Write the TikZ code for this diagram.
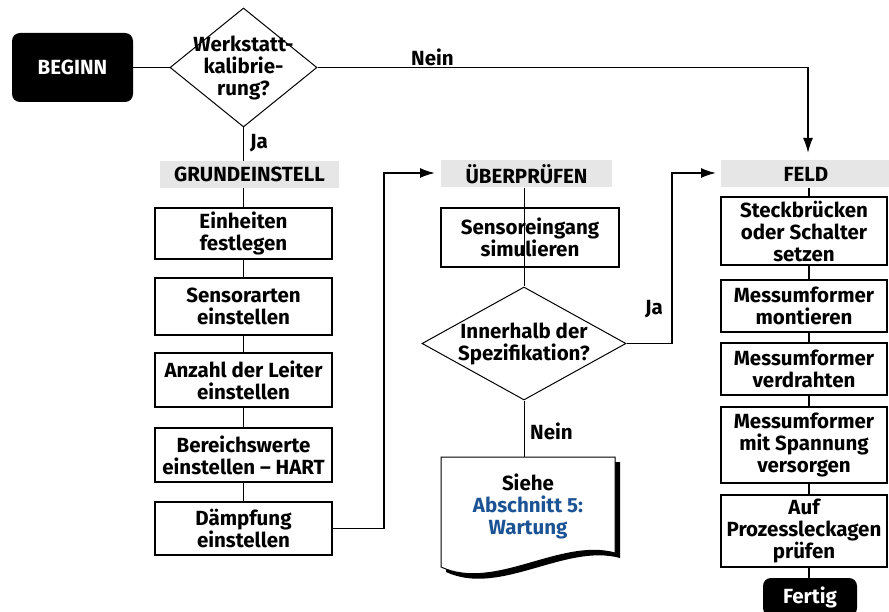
\documentclass[tikz,border=0pt]{standalone}
\usepackage{fontspec}
\setmainfont{Fira Sans}
\usetikzlibrary{arrows.meta,shapes.geometric}
\definecolor{hdrgray}{HTML}{E6E6E6}
\definecolor{linkblue}{HTML}{1B5394}
\begin{document}
\begin{tikzpicture}[x=1pt,y=-1pt,
  every node/.style={font=\bfseries\fontsize{20.5}{22}\selectfont, align=center, inner sep=0pt},
  stepbox/.style={draw, line width=1.7pt, fill=white, minimum width=#1},
  stepbox/.default=177pt,
  header/.style={fill=hdrgray, minimum height=27pt},
  terminal/.style={fill=black, text=white, rounded corners=8pt},
  decision/.style={draw, diamond, line width=1pt, fill=white},
  conn/.style={line width=1.7pt},
  thinconn/.style={line width=1pt},
  arr/.style={-{Latex[length=15pt,width=10pt]}},
  lbl/.style={anchor=west}
]
\useasboundingbox (0,0) rectangle (889,612);

% start and first decision
\node[terminal, minimum width=121pt, minimum height=69pt] (begin) at (72.5,67.5) {BEGINN};
\node[decision, minimum width=147pt, minimum height=119pt] (d1) at (243.5,67.5) {};
\node at (d1) {Werkstatt-\\kalibrie-\\rung?};

% column headers
\node[header, minimum width=179pt] (grund) at (249.5,174.5) {GRUNDEINSTELL};
\node[header, minimum width=171pt] (ueber) at (526.5,174) {ÜBERPRÜFEN};
\node[header, minimum width=170pt] (feld) at (806,174) {FELD};

% basic setup column
\node[stepbox, minimum height=51pt] (einh) at (243.5,233.5) {Einheiten\\festlegen};
\node[stepbox, minimum height=57pt] (sens) at (243.5,306.5) {Sensorarten\\einstellen};
\node[stepbox, minimum height=54pt] (leit) at (243.5,380) {Anzahl der Leiter\\einstellen};
\node[stepbox, minimum height=54pt] (bere) at (243.5,455) {Bereichswerte\\einstellen – HART};
\node[stepbox, minimum height=53pt] (daem) at (243.5,528.5) {Dämpfung\\einstellen};

% verification column
\node[stepbox=178pt, minimum height=59pt] (simu) at (530,237.5) {Sensoreingang\\simulieren};
\node[decision, minimum width=204pt, minimum height=113pt] (d2) at (524,343.5) {};
\node at (d2) {Innerhalb der\\Spezifikation?};

% document shape with shadow
\coordinate (dnw) at (441,457);
\coordinate (dne) at (615,457);
\coordinate (dse) at (615,553);
\coordinate (dsw) at (441,567);
\fill[black] ([shift={(5,5)}]dnw) -- ([shift={(5,5)}]dne) -- ([shift={(5,5)}]dse)
  .. controls ([shift={(5,5)}]560,538) and ([shift={(5,5)}]495,592) .. ([shift={(5,5)}]dsw) -- cycle;
\draw[fill=white, line width=1pt] (dnw) -- (dne) -- (dse)
  .. controls (560,538) and (495,592) .. (dsw) -- cycle;
\node (doc) at (528,506) {Siehe\\\textcolor{linkblue}{Abschnitt 5:}\\\textcolor{linkblue}{Wartung}};

% field column
\node[stepbox=166pt, minimum height=68pt] (steck) at (804,231) {Steckbrücken\\oder Schalter\\setzen};
\node[stepbox=166pt, minimum height=52pt] (mont) at (804,306) {Messumformer\\montieren};
\node[stepbox=166pt, minimum height=52pt] (verd) at (804,369) {Messumformer\\verdrahten};
\node[stepbox=166pt, minimum height=76pt] (span) at (804,445) {Messumformer\\mit Spannung\\versorgen};
\node[stepbox=166pt, minimum height=72pt] (leck) at (804,531) {Auf\\Prozessleckagen\\prüfen};
\node[terminal, minimum width=94pt, minimum height=38pt] (fert) at (810,597) {Fertig};

% connectors
\draw[conn] (begin.east) -- (d1.west);
\draw[conn, arr] (d1.east) -- (d1.east -| 808,0) -- (808,153);
\node[lbl] at (411,57) {Nein};
\draw[conn] (d1.south) -- (grund.north -| d1.south);
\node[lbl] at (250,143) {Ja};
\draw[conn] (grund.south -| einh.north) -- (einh.north);
\draw[conn] (einh) -- (sens);
\draw[conn] (sens) -- (leit);
\draw[conn] (leit) -- (bere);
\draw[conn] (bere) -- (daem);
\draw[conn, arr] (daem.east) -- (daem.east -| 384,0) -- (384,173) -- (435,173);

\draw[thinconn] (ueber.south -| d2.north) -- (simu.south -| d2.north);
\draw[thinconn] (simu.south -| d2.north) -- (d2.north);
\draw[thinconn] (d2.south) -- (dnw -| d2.south);
\node[lbl] at (530,431) {Nein};
\draw[conn, arr] (d2.east) -- (672,343.5 |- d2.east) -- (672,173) -- (716,173);
\node[lbl] at (645,309) {Ja};

\draw[conn] (feld.south -| 809,0) -- (809,197);
\draw[conn] (809,265) -- (809,280);
\draw[conn] (809,332) -- (809,343);
\draw[conn] (809,395) -- (809,407);
\draw[conn] (809,483) -- (809,495);
\draw[conn] (809,567) -- (809,578);
\end{tikzpicture}
\end{document}
